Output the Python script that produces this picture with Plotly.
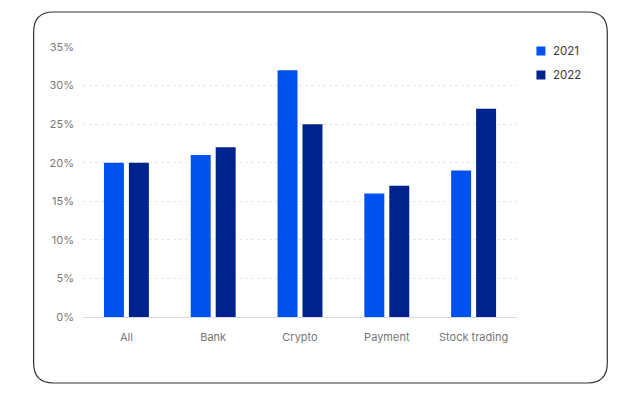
import plotly.graph_objects as go

categories = ["All", "Bank", "Crypto", "Payment", "Stock trading"]
values_2021 = [20, 21, 32, 16, 19]
values_2022 = [20, 22, 25, 17, 27]
series_names = ["2021", "2022"]
series_colors = ["#0051EF", "#00228D"]
y_ticks = [0, 5, 10, 15, 20, 25, 30, 35]
y_tick_labels = ["0%", "5%", "10%", "15%", "20%", "25%", "30%", "35%"]

fig = go.Figure()
for name, vals, col in zip(series_names, [values_2021, values_2022], series_colors):
    fig.add_trace(go.Bar(name=name, x=categories, y=vals, showlegend=False,
                         marker=dict(color=col, line=dict(width=0))))

W, H = 641, 413
L, R, T, B = 82.5, 123.5, 47, 96
pw, ph = W - L - R, H - T - B

def px(x):
    return (x - L) / pw

def py(y):
    return (H - B - y) / ph

x0, x1, y0, y1, r = 33, 608, 12, 383, 20
path = (f"M {px(x0 + r)} {py(y0)} L {px(x1 - r)} {py(y0)} "
        f"Q {px(x1)} {py(y0)} {px(x1)} {py(y0 + r)} "
        f"L {px(x1)} {py(y1 - r)} Q {px(x1)} {py(y1)} {px(x1 - r)} {py(y1)} "
        f"L {px(x0 + r)} {py(y1)} Q {px(x0)} {py(y1)} {px(x0)} {py(y1 - r)} "
        f"L {px(x0)} {py(y0 + r)} Q {px(x0)} {py(y0)} {px(x0 + r)} {py(y0)} Z")

shapes = [dict(type="path", xref="paper", yref="paper", path=path,
               line=dict(color="#333333", width=1.2), fillcolor="rgba(0,0,0,0)",
               layer="above")]
annotations = []
for i, (name, col) in enumerate(zip(series_names, series_colors)):
    cy = 51 + 24 * i
    shapes.append(dict(type="rect", xref="paper", yref="paper",
                       x0=px(537), x1=px(546), y0=py(cy - 4.5), y1=py(cy + 4.5),
                       fillcolor=col, line=dict(width=0)))
    annotations.append(dict(text=name, xref="paper", yref="paper", x=px(552), y=py(cy),
                            xanchor="left", yanchor="middle", showarrow=False,
                            font=dict(size=11.5, color="#3a3a3a")))

fig.update_layout(
    width=W, height=H,
    margin=dict(l=L, r=R, t=T, b=B, pad=0),
    paper_bgcolor="white", plot_bgcolor="white",
    barmode="group", bargap=0.425, bargroupgap=0.2,
    font=dict(family="Inter, Lato, sans-serif", color="#777777", size=11),
    showlegend=False,
    xaxis=dict(showgrid=False, showline=True, linecolor="#d5dbe6", linewidth=1,
               ticks="", ticklabelstandoff=10, tickfont=dict(size=11, color="#777777")),
    yaxis=dict(range=[0, 35], tickvals=y_ticks, ticktext=y_tick_labels,
               showgrid=True, gridcolor="#e6e6e6", griddash="dot", gridwidth=1,
               zeroline=False, showline=False, ticks="", ticklabelstandoff=8,
               tickfont=dict(size=11, color="#777777")),
    shapes=shapes,
    annotations=annotations,
)

fig.write_html("out.html")
